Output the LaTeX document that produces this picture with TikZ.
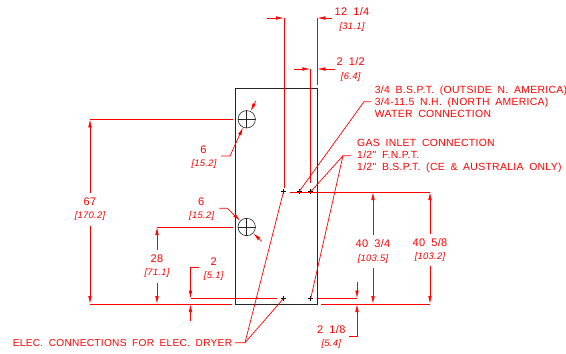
\documentclass[tikz,border=0pt]{standalone}
\usepackage{fontspec}
\setmainfont{Liberation Sans}
\newfontfamily\cadfont[WordSpace=1.8,LetterSpace=3]{Liberation Sans}
\usetikzlibrary{arrows.meta}
\newcommand{\crossmark}[1]{\draw[black,line width=0.5pt] ([xshift=-2.5pt]#1) -- ([xshift=2.5pt]#1) ([yshift=-2.5pt]#1) -- ([yshift=2.5pt]#1);}
\tikzset{
  x=1pt,y=-1pt,
  dimline/.style={red,line width=0.7pt},
  arrowline/.style={red,line width=0.7pt,-{Latex[length=8pt,width=3.6pt]}},
  outline/.style={black!85,line width=0.8pt},
  portcircle/.style={circle,draw=black!85,line width=0.6pt,minimum size=17.4pt,inner sep=0pt},
  dimtext/.style={red,font=\fontsize{11}{10}\cadfont,inner sep=0pt,outer sep=5pt},
  subtext/.style={red,font=\fontsize{9.4}{10}\cadfont\itshape,inner sep=0pt,outer sep=5pt},
  notetext/.style={red,font=\fontsize{10.4}{12.3}\cadfont,inner sep=0pt,align=left,anchor=west},
  electext/.style={notetext,font=\fontsize{10.1}{12.3}\cadfont}
}
\begin{document}
\begin{tikzpicture}
      \useasboundingbox (0,0) rectangle (566,354);
      % cabinet, ports, connection points
      \draw[outline] (235.5,88.7) rectangle (317.3,304);
      \node[portcircle] (topconn) at (246.7,119.3) {};
      \node[portcircle] (lowconn) at (246.7,227) {};
      \draw[black!85,line width=0.5pt] (topconn.north) -- (topconn.south) (topconn.west) -- (topconn.east);
      \draw[black!85,line width=0.5pt] (lowconn.north) -- (lowconn.south) (lowconn.west) -- (lowconn.east);
      \coordinate (p1) at (283.5,191.7);
      \coordinate (p2) at (299,191.7);
      \coordinate (p3) at (310.7,191.7);
      \coordinate (p4) at (283.5,298.5);
      \coordinate (p5) at (310.7,298.5);
      \crossmark{p1}
      \crossmark{p2}
      \crossmark{p3}
      \crossmark{p4}
      \crossmark{p5}
      % dimension labels
      \node[dimtext] (n67) at (90,202) {67};
      \node[subtext] (s67) at (90,216.3) {[170.2]};
      \node[dimtext] (ntop) at (203.5,150) {6};
      \node[subtext] (stop) at (204,164) {[15.2]};
      \node[dimtext] (nlow) at (201.3,202) {6};
      \node[subtext] (slow) at (201.7,215.7) {[15.2]};
      \node[dimtext] (n28) at (157,258.7) {28};
      \node[subtext] (s28) at (157,273.5) {[71.1]};
      \node[dimtext] (n2) at (213.7,261.3) {2};
      \node[subtext] (s2) at (213.7,275.7) {[5.1]};
      \node[dimtext] (n1214) at (352,12) {12 1/4};
      \node[subtext] (s1214) at (352,26.7) {[31.1]};
      \node[dimtext] (n212) at (350.7,62) {2 1/2};
      \node[subtext] (s212) at (350.7,77) {[6.4]};
      \node[dimtext] (n4034) at (373,244) {40 3/4};
      \node[subtext] (s4034) at (373,258.7) {[103.5]};
      \node[dimtext] (n4058) at (430,242.7) {40 5/8};
      \node[subtext] (s4058) at (430,257) {[103.2]};
      \node[dimtext] (n218) at (331.3,329.3) {2 1/8};
      \node[subtext] (s218) at (331.3,343.7) {[5.4]};
      % notes
      \node[notetext] (water) at (374.7,101.7) {3/4 B.S.P.T. (OUTSIDE N. AMERICA)\\3/4-11.5 N.H. (NORTH AMERICA)\\WATER CONNECTION};
      \node[notetext] (gas) at (357,156) {GAS INLET CONNECTION\\1/2" F.N.P.T.\\1/2" B.S.P.T. (CE \& AUSTRALIA ONLY)};
      \node[electext] (elec) at (12.7,342.7) {ELEC. CONNECTIONS FOR ELEC. DRYER};
      % leaders to the connection points
      \coordinate (waterknee) at (364,101.7);
      \coordinate (waterend) at (371,101.7);
      \draw[dimline] (waterend) -- (waterknee) -- (p2);
      \coordinate (gasknee) at (343,155.7);
      \coordinate (gasend) at (351.3,155.7);
      \draw[dimline] (gasend) -- (gasknee) -- (p3);
      \draw[dimline] (gasknee) -- (p5);
      \coordinate (elecknee) at (245,342.7);
      \coordinate (elecend) at (235,342.7);
      \draw[dimline] (elecend) -- (elecknee) -- (p1);
      \draw[dimline] (elecknee) -- (p4);
      % leaders to the ports
      \coordinate (topknee) at (230,156);
      \coordinate (topend) at (221,156);
      \coordinate (topout) at (255.7,101);
      \draw[arrowline] (topend) -- (topknee) -- (topconn);
      \draw[arrowline] (topout) -- (topconn);
      \coordinate (lowknee) at (227.3,208.3);
      \coordinate (lowend) at (219.3,208.3);
      \coordinate (lowout) at (261.7,241.3);
      \draw[arrowline] (lowend) -- (lowknee) -- (lowconn);
      \draw[arrowline] (lowout) -- (lowconn);
      % left side dimensions
      \coordinate (basel) at (231.7,304);
      \coordinate (far) at (90,304);
      \coordinate (t67) at (90,119.3);
      \coordinate (topext) at (233,119.3);
      \coordinate (t28) at (157,227);
      \coordinate (lowext) at (233,227);
      \coordinate (b28) at (157,304);
      \draw[dimline] (basel) -- (far);
      \draw[dimline] (topext) -- (t67);
      \draw[dimline] (lowext) -- (t28);
      \draw[arrowline] (n67) -- (t67);
      \draw[arrowline] (s67) -- (far);
      \draw[arrowline] (n28) -- (t28);
      \draw[arrowline] (s28) -- (b28);
      % 2 dimension
      \coordinate (k2a) at (199,267.7);
      \coordinate (k2b) at (190.5,267.7);
      \coordinate (k2c) at (190.5,298.5);
      \coordinate (k2d) at (277,298.5);
      \coordinate (k2e) at (190.5,321);
      \coordinate (k2f) at (190.5,304);
      \draw[arrowline] (k2a) -- (k2b) -- (k2c);
      \draw[dimline] (k2c) -- (k2d);
      \draw[arrowline] (k2e) -- (k2f);
      % top dimensions
      \coordinate (a1214) at (267,18);
      \coordinate (b1214) at (284,18);
      \coordinate (c1214) at (284,188);
      \coordinate (d1214) at (332,18);
      \coordinate (e1214) at (317.3,18);
      \coordinate (f1214) at (317.3,85);
      \draw[arrowline] (a1214) -- (b1214);
      \draw[dimline] (b1214) -- (c1214);
      \draw[arrowline] (d1214) -- (e1214);
      \draw[dimline] (e1214) -- (f1214);
      \coordinate (a212) at (294,69);
      \coordinate (b212) at (310.3,69);
      \coordinate (c212) at (310.3,183);
      \coordinate (d212) at (334.7,69);
      \coordinate (e212) at (317.3,69);
      \draw[arrowline] (a212) -- (b212);
      \draw[dimline] (b212) -- (c212);
      \draw[arrowline] (d212) -- (e212);
      % right side dimensions
      \coordinate (ext1) at (290,192);
      \coordinate (ext2) at (430,192);
      \coordinate (ext3) at (321.3,304);
      \coordinate (ext4) at (430,304);
      \coordinate (t4034) at (373,192);
      \coordinate (b4034) at (373,304);
      \draw[dimline] (ext1) -- (ext2);
      \draw[dimline] (ext3) -- (ext4);
      \draw[arrowline] (n4034) -- (t4034);
      \draw[arrowline] (s4034) -- (b4034);
      \draw[arrowline] (n4058) -- (ext2);
      \draw[arrowline] (s4058) -- (ext4);
      % 2 1/8 dimension
      \coordinate (k8a) at (318,298.5);
      \coordinate (k8b) at (357,298.5);
      \coordinate (k8c) at (357,282);
      \coordinate (k8d) at (349,336.3);
      \coordinate (k8e) at (357,336.3);
      \coordinate (k8f) at (357,304);
      \draw[dimline] (k8a) -- (k8b);
      \draw[arrowline] (k8c) -- (k8b);
      \draw[arrowline] (k8d) -- (k8e) -- (k8f);
    \end{tikzpicture}
\end{document}
